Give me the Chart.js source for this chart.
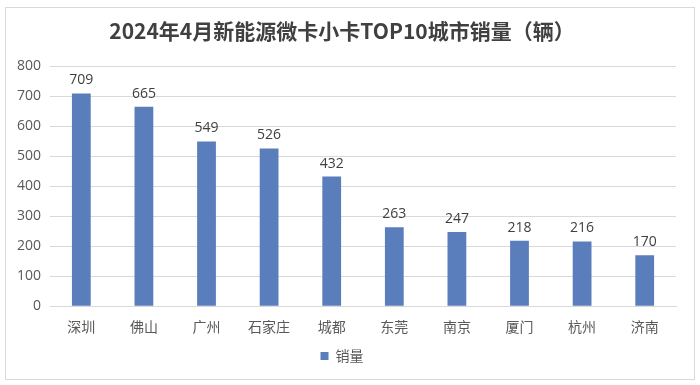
<!DOCTYPE html>
<html>
<head>
<meta charset="utf-8">
<script src="https://cdn.jsdelivr.net/npm/chart.js@4.4.1/dist/chart.umd.min.js"></script>
<style>
  body { margin: 0; background: #fff; }
  #box { position: absolute; left: 5px; top: 7px; width: 688px; height: 371px; border: 1px solid #d9d9d9; }
</style>
</head>
<body>
<div id="box"><canvas id="salesChart" width="688" height="371"></canvas></div>
<script>
const cities = ['深圳', '佛山', '广州', '石家庄', '城都', '东莞', '南京', '厦门', '杭州', '济南'];
const sales = [709, 665, 549, 526, 432, 263, 247, 218, 216, 170];
const yTicks = [0, 100, 200, 300, 400, 500, 600, 700, 800];

// 柱顶数值标签
const valueLabels = {
    id: 'valueLabels',
    afterDatasetsDraw(chart) {
        const ctx = chart.ctx;
        const meta = chart.getDatasetMeta(0);
        ctx.save();
        ctx.font = '14px "Open Sans", "Noto Sans", sans-serif';
        ctx.fillStyle = '#404040';
        ctx.textAlign = 'center';
        ctx.textBaseline = 'bottom';
        meta.data.forEach((bar, i) => {
            ctx.fillText(sales[i], bar.x, bar.y - 6);
        });
        ctx.restore();
    }
};

const ctx = document.getElementById('salesChart').getContext('2d');
new Chart(ctx, {
    type: 'bar',
    data: {
        labels: cities,
        datasets: [{
            label: '销量',
            data: sales,
            backgroundColor: '#5a7dbb',
            barPercentage: 0.3,
            categoryPercentage: 1.0
        }]
    },
    options: {
        responsive: false,
        animation: false,
        layout: { padding: { left: 2, right: 18, top: 0, bottom: 6 } },
        plugins: {
            title: {
                display: true,
                text: '2024年4月新能源微卡小卡TOP10城市销量（辆）',
                color: '#404040',
                font: { family: '"Noto Sans CJK SC", sans-serif', size: 21, weight: 'bold' },
                padding: { top: 10, bottom: 23 }
            },
            legend: {
                position: 'bottom',
                labels: {
                    color: '#595959',
                    font: { family: '"Noto Sans CJK SC", sans-serif', size: 14 },
                    boxWidth: 8,
                    boxHeight: 8,
                    padding: 10
                }
            },
            tooltip: { enabled: false }
        },
        scales: {
            x: {
                grid: { display: false },
                border: { color: '#d9d9d9' },
                ticks: {
                    color: '#595959',
                    font: { family: '"Noto Sans CJK SC", sans-serif', size: 14 },
                    padding: 4
                }
            },
            y: {
                min: 0,
                max: 800,
                afterBuildTicks(axis) { axis.ticks = yTicks.map(v => ({ value: v })); },
                grid: { color: '#d9d9d9', drawTicks: false },
                border: { display: false },
                ticks: {
                    color: '#595959',
                    font: { family: '"Open Sans", "Noto Sans", sans-serif', size: 14 },
                    padding: 9
                }
            }
        }
    },
    plugins: [valueLabels]
});
</script>
</body>
</html>
